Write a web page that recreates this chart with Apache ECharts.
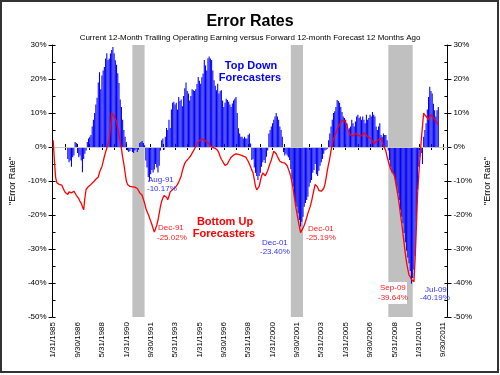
<!DOCTYPE html>
<html>
<head>
<meta charset="utf-8">
<title>Error Rates</title>
<script src="https://cdn.jsdelivr.net/npm/echarts@6/dist/echarts.min.js"></script>
<style>
  html, body { margin: 0; padding: 0; background: #fff; }
  #chartBox { width: 500px; height: 375px; }
</style>
</head>
<body>
<div id="chartBox"></div>
<script>
// monthly, 1/1985 .. 12/2011 (labels are month-end dates)
const startYear = 1985;
const monthCount = 324;

// shown tick labels (every 20 months)
const tickLabels = ['1/31/1985', '9/30/1986', '5/31/1988', '1/31/1990', '9/30/1991', '5/31/1993',
  '1/31/1995', '9/30/1996', '5/31/1998', '1/31/2000', '9/30/2001', '5/31/2003', '1/31/2005',
  '9/30/2006', '5/31/2008', '1/31/2010', '9/30/2011'];

// Top Down Forecasters (bars), %
const topDown = [
  null, null, null, null, null, null, null, null, null, null, null, null,
  -3.5, -4.5, -4, -5.8, -3, -2.5, 1.5, 1.2, -1.8, -3, -2.5, -4,
  -7.4, -3.5, -2, -1, 1.5, 2.5, 3, 3.5, 6, 8, 10, 12.5,
  14.5, 19, 22, 17, 21, 22.5, 23.5, 26, 27.6, 25.6, 26, 27.5,
  28.5, 29.4, 27.6, 25.5, 24.2, 21.7, 18.8, 14, 11.8, 8, 5, 3,
  1.5, -1, -1.5, -1.2, -0.6, -1.5, -1.8, -1, -0.5, -1.5, -0.8, 1.2,
  1.5, 1.8, 1.2, 0.5, -4, -6, -8.8, -10.17, -8, -6.8, -7.5, -6.6,
  -5, -6, -7.5, -5.5, -1, 2, 2.5, -0.8, 3, 5.6, 5, 8,
  5.6, 11, 13, 13.3, 12.5, 13, 11, 14.7, 13.5, 14, 12, 15,
  17.3, 19, 16.5, 15.7, 13.7, 15, 17, 16.7, 16.5, 17, 18.5, 20.6,
  19.5, 18.6, 20.5, 21.6, 25.6, 24, 22.5, 26.1, 26.6, 26, 25.6, 22.5,
  19.6, 18, 16.7, 18.6, 15.7, 16.5, 16.7, 13.7, 11.8, 13, 14.2, 13.8,
  13.3, 12.5, 11.8, 12.8, 13.7, 14.2, 14.7, 10, 5.5, 4, 3, 3,
  2.5, 3, 2.5, 2.5, 3.5, 4, 1, -3.8, -3.5, -6, -7.6, -8.5,
  -9.7, -8.5, -7.6, -5.8, -4.5, -3.8, -4.7, -2.9, -1, 4, 5, 6,
  7, 8, 9, 10, 9, 8, 6, 5, 3, -1.5, -2.5, -2,
  -2.5, -3, -3.8, -6.5, -9.5, -11.7, -14.6, -16.5, -17.6, -19.5, -21.5, -23.4,
  -22, -20.5, -17.6, -16.5, -15.6, -14.6, -11.7, -10.5, -9.7, -7.6, -6.8, -5,
  -8, -8.5, -7, -5.5, -4.5, -3.5, -2, -1, -0.8, -0.5, 2, 4,
  6, 8, 10, 10.5, 11.8, 13.8, 13.5, 13, 11.8, 10.3, 9, 8.5,
  8, 7, 5, 5.5, 6, 8, 7, 6, 7.5, 9, 9.5, 8.5,
  9, 8, 9, 8, 7, 9.5, 8, 8.5, 9.5, 9, 10.3, 9.5,
  9, 6, 5, 6, 7, 3.5, 3, 4, 3.5, 3.5, 2, -1,
  -3.8, -5.8, -7.6, -8, -8.5, -9.7, -11.7, -13.5, -15.6, -18.5, -20.5, -22.4,
  -25.3, -28, -30.5, -32.5, -34.2, -36.5, -40.19, -38.5, -36, -32, -22, -12.6,
  -5.8, -2.9, -1.8, -5, 3, 5, 7, 11, 14.7, 17.7, 16.5, 15.7,
  12.7, 10.8, 9, 10.8, 11.8
];

// Bottom Up Forecasters (line), %
const bottomUp = [
  2, -4, -9, -10.5, -10.8, -11, -11.2, -11.2, -12, -12.8, -13.4, -13.8,
  -14, -13.2, -13, -13.5, -13.3, -13, -13.5, -14.2, -14.6, -15.2, -16, -16.6,
  -17.5, -18.5, -15, -12.5, -12, -11.6, -11.4, -11, -10.7, -10.3, -10, -9.5,
  -9.2, -8.8, -7.5, -6.5, -5.8, -4.3, -2.8, -1.5, -0.3, 1, 2, 6,
  10, 9.8, 9, 8.5, 7.5, 5.5, 3.5, 1.5, -0.5, -3, -5, -7.5,
  -10, -11, -11.3, -11.6, -11.7, -11.7, -11.6, -11.8, -11.7, -12.2, -12.8, -13.5,
  -13.8, -14.2, -14.6, -16.5, -18, -19, -19.8, -20.8, -21.8, -22.8, -24, -25.02,
  -24, -23, -21.5, -19.5, -17.5, -16, -15, -14.3, -14, -14.8, -15.5, -14.5,
  -13.2, -12.8, -12.5, -12.2, -12, -11.5, -11, -10.3, -9.8, -8.5, -7, -5.8,
  -4.8, -4.2, -3.8, -3.4, -3, -2.5, -1.8, -1.2, -0.5, 0, 0.8, 1.5,
  2, 2.2, 2.4, 2.3, 2, 1.8, 1.5, 1.2, 0.8, 0.4, 0, -0.2,
  -0.3, -0.4, -0.6, -1, -1.8, -2.8, -3.6, -4.2, -4.8, -5.4, -5.8, -5,
  -4.2, -3.6, -3, -2.6, -2.4, -2.2, -2, -2, -2.2, -2.3, -2.4, -2.5,
  -2.7, -2.8, -3, -3.6, -4.2, -5, -5.8, -6.8, -7.6, -9.5, -11.5, -12.6,
  -12.2, -11.6, -10, -8.5, -7.6, -8, -8.5, -8.5, -7, -5.8, -4.8, -3.8,
  -2.5, -1.2, -1.2, -2, -2.8, -3.5, -4.2, -4.5, -4.6, -4.6, -4.7, -4.8,
  -5.5, -6.5, -7.5, -8.7, -10.5, -12.5, -15, -17.5, -19.5, -21.5, -23.5, -25.19,
  -24.8, -23.8, -23, -22, -20.8, -19.5, -18.5, -17.4, -16, -14.2, -12.5, -11,
  -10.6, -11.8, -12.8, -13, -13, -13, -12.2, -11, -9, -6.8, -5, -3.2,
  -1, 1, 2.5, 3.3, 4, 5.2, 6, 6.6, 7.2, 7.8, 8, 7.8,
  7.5, 6.5, 5, 4.2, 3.5, 3, 3.3, 3.8, 4, 3.7, 3.5, 3.4,
  3.2, 3, 3.5, 4.2, 4.4, 3.6, 3, 2.8, 2.6, 2.5, 1.8, 0.8,
  1, 1.6, 2, 2.2, 2.4, 2.5, 1.5, 0.4, 0, -1.2, -2.9, -4.2,
  -5.5, -6.6, -7, -7.5, -8.5, -10.5, -12.5, -14.5, -17, -20, -22.5, -25.5,
  -28.5, -31.5, -34, -36, -37.6, -38.2, -39, -39.3, -39.64, -33, -24, -14,
  -8, -3, 2, 6, 10, 9.4, 9, 8.6, 8, 8.8, 9.5, 9,
  8.6, 8.2, 7.6, 7, 6.5
];

// grey bands, as [first month, last month]
const recessions = [['1990-06', '1991-04'], ['2001-02', '2002-01'], ['2007-12', '2009-05']];

// category labels M/D/YYYY (month end)
const months = [];
for (let i = 0; i < monthCount; i++) {
  const y = startYear + Math.floor(i / 12);
  const m = (i % 12) + 1;
  const d = new Date(y, m, 0).getDate();
  months.push(m + '/' + d + '/' + y);
}
// category index of a 'YYYY-MM' month
const monthIndex = (ym) => {
  const [y, m] = ym.split('-').map(Number);
  return (y - startYear) * 12 + (m - 1);
};

const font = 'Liberation Sans, Arial, sans-serif';
const myChart = echarts.init(document.getElementById('chartBox'), null, { renderer: 'canvas' });

const xBase = {
  type: 'category',
  data: months,
  boundaryGap: true,
  axisLine: { show: true, lineStyle: { color: '#000', width: 1 } },
  axisTick: { show: true, inside: true, length: 3, interval: 9, alignWithLabel: true, lineStyle: { color: '#000' } },
  axisLabel: { show: false },
  splitLine: { show: false }
};
const yBase = {
  type: 'value',
  min: -50,
  max: 30,
  interval: 10,
  axisLine: { show: true, lineStyle: { color: '#000', width: 1 } },
  axisTick: { show: true, inside: false, length: 4, lineStyle: { color: '#000' } },
  axisLabel: { show: true, formatter: '{value}%', fontSize: 8, color: '#000', fontFamily: font, margin: 6 },
  splitLine: { show: false },
  name: '"Error Rate"',
  nameLocation: 'middle',
  nameRotate: 90,
  nameGap: 32,
  nameTextStyle: { fontSize: 9, color: '#000', fontFamily: font }
};
const yMinor = {
  type: 'value',
  min: -50,
  max: 30,
  interval: 5,
  axisLine: { show: false },
  axisTick: { show: true, inside: true, length: 3, lineStyle: { color: '#000' } },
  axisLabel: { show: false },
  splitLine: { show: false }
};

const txt = (text, x, y, color, size, bold, align) => ({
  type: 'text',
  z: 100,
  style: {
    text: text, x: x, y: y, fill: color,
    fontSize: size, fontFamily: font, fontWeight: bold ? 'bold' : 'normal',
    align: align || 'left', verticalAlign: 'middle'
  }
});

const option = {
  backgroundColor: '#fff',
  animation: false,
  title: [
    { text: 'Error Rates', left: 'center', top: 14, padding: 0,
      textStyle: { fontSize: 16, fontWeight: 'bold', color: '#000', fontFamily: font } },
    { text: 'Current 12-Month Trailing Operating Earning versus Forward 12-month Forecast 12 Months Ago',
      left: 'center', top: 34, padding: 0,
      textStyle: { fontSize: 8, fontWeight: 'normal', color: '#000', fontFamily: font } }
  ],
  grid: { left: 47, right: 48, top: 45, bottom: 58, containLabel: false },
  xAxis: [
    Object.assign({}, xBase, {
      position: 'bottom',
      axisLabel: {
        show: true, interval: 19, rotate: 90, fontSize: 8, color: '#000', fontFamily: font, margin: 5,
        formatter: (v) => (tickLabels.includes(v) ? v : '')
      }
    }),
    Object.assign({}, xBase, { position: 'top' }),
    Object.assign({}, xBase, { position: 'top', axisTick: Object.assign({}, xBase.axisTick, { inside: false }) })
  ],
  yAxis: [
    Object.assign({}, yBase, { position: 'left' }),
    Object.assign({}, yMinor, { position: 'left' }),
    Object.assign({}, yBase, { position: 'right' }),
    Object.assign({}, yMinor, { position: 'right' })
  ],
  series: [
    {
      name: 'Top Down Forecasters',
      type: 'bar',
      xAxisIndex: 0,
      yAxisIndex: 0,
      data: topDown,
      barCategoryGap: '12%',
      itemStyle: { color: '#0000ff' },
      markArea: {
        silent: true,
        itemStyle: { color: '#c0c0c0' },
        data: recessions.map((r) => [{ xAxis: monthIndex(r[0]) }, { xAxis: monthIndex(r[1]) }])
      },
      markLine: {
        silent: true,
        symbol: 'none',
        label: { show: false },
        lineStyle: { color: '#c8c8c8', type: 'solid', width: 1 },
        data: [{ yAxis: 0 }]
      }
    },
    {
      name: 'Bottom Up Forecasters',
      type: 'line',
      xAxisIndex: 0,
      yAxisIndex: 0,
      data: bottomUp,
      showSymbol: false,
      symbol: 'none',
      lineStyle: { color: '#ff0000', width: 1.3 },
      z: 5
    }
  ],
  graphic: [
    { type: 'rect', shape: { x: 1, y: 1, width: 497, height: 371 },
      style: { fill: 'none', stroke: '#333', lineWidth: 2 }, z: 100 },
    txt('Top Down', 251, 66, '#0000ff', 11, true, 'center'),
    txt('Forecasters', 250, 78, '#0000ff', 11, true, 'center'),
    txt('Bottom Up', 225, 222, '#ff0000', 11, true, 'center'),
    txt('Forecasters', 224, 234, '#ff0000', 11, true, 'center'),
    txt('Aug-91', 148, 180, '#3333ff', 8),
    txt('-10.17%', 147, 189, '#3333ff', 8),
    txt('Dec-91', 158, 228, '#ff2020', 8),
    txt('-25.02%', 157, 238, '#ff2020', 8),
    txt('Dec-01', 262, 243, '#3333ff', 8),
    txt('-23.40%', 260, 252, '#3333ff', 8),
    txt('Dec-01', 308, 229, '#ff2020', 8),
    txt('-25.19%', 306, 238, '#ff2020', 8),
    { type: 'rect', z: 99, shape: { x: 376, y: 282, width: 31, height: 22 }, style: { fill: '#fff' } },
    txt('Sep-09', 380, 288, '#ff2020', 8),
    txt('-39.64%', 378, 298, '#ff2020', 8),
    txt('Jul-09', 425, 290, '#3333ff', 8),
    txt('-40.19%', 420, 298, '#3333ff', 8)
  ]
};
myChart.setOption(option);
</script>
</body>
</html>
